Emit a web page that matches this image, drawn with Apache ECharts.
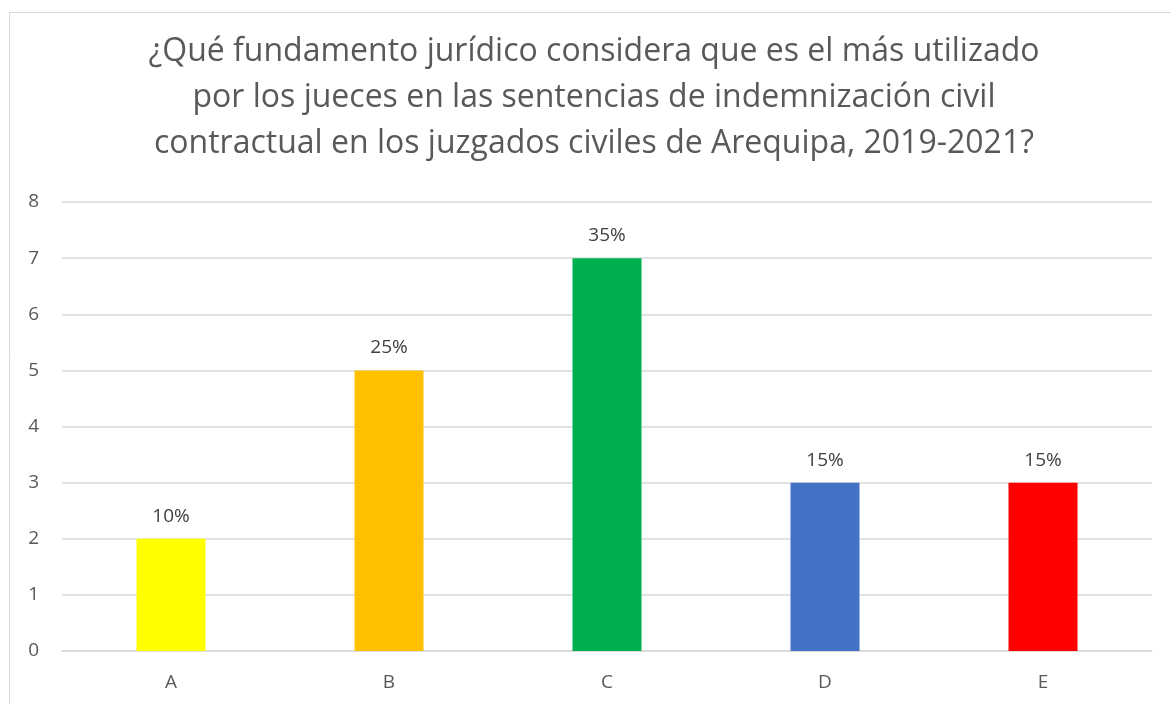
<!DOCTYPE html>
<html>
<head>
<meta charset="utf-8">
<script src="https://cdn.jsdelivr.net/npm/echarts@6/dist/echarts.min.js"></script>
<style>
  html, body { margin: 0; padding: 0; background: #fff; }
  #chart { width: 1171px; height: 704px; }
</style>
</head>
<body>
<div id="chart"></div>
<script>
const categories = ["A", "B", "C", "D", "E"];
const counts = [2, 5, 7, 3, 3];
const percents = ["10%", "25%", "35%", "15%", "15%"];
const barColors = ["#FFFF00", "#FFC000", "#00B050", "#4472C4", "#FF0000"];
const titleLines = [
  "¿Qué fundamento jurídico considera que es el más utilizado",
  "por los jueces en las sentencias de indemnización civil",
  "contractual en los juzgados civiles de Arequipa, 2019-2021?"
];

const font = "Open Sans, Noto Sans, sans-serif";
const chart = echarts.init(document.getElementById("chart"));

chart.setOption({
  animation: false,
  title: {
    text: titleLines.join("\n"),
    left: 589,
    textAlign: "center",
    top: 24,
    textStyle: {
      fontFamily: font,
      fontSize: 32,
      fontWeight: "normal",
      color: "#595959",
      lineHeight: 46
    }
  },
  graphic: [{
    type: "rect",
    shape: { x: 9.5, y: 12.5, width: 1200, height: 720 },
    style: { fill: "none", stroke: "#d9d9d9", lineWidth: 1 },
    silent: true
  }],
  grid: { left: 62, right: 19, top: 202, bottom: 53 },
  xAxis: {
    type: "category",
    data: categories,
    axisLine: { lineStyle: { color: "#d9d9d9", width: 1.5 } },
    axisTick: { show: false },
    axisLabel: { color: "#595959", fontSize: 19, fontFamily: font, margin: 22 }
  },
  yAxis: {
    type: "value",
    min: 0,
    max: 8,
    interval: 1,
    axisLine: { show: false },
    axisTick: { show: false },
    splitLine: { lineStyle: { color: "#d9d9d9", width: 1.5 } },
    axisLabel: { color: "#595959", fontSize: 19, fontFamily: font, margin: 23 }
  },
  series: [{
    type: "bar",
    barWidth: 69,
    data: counts.map((v, i) => ({ value: v, itemStyle: { color: barColors[i] } })),
    label: {
      show: true,
      position: "top",
      distance: 13,
      color: "#404040",
      fontSize: 19,
      fontFamily: font,
      formatter: p => percents[p.dataIndex]
    }
  }]
});
</script>
</body>
</html>
